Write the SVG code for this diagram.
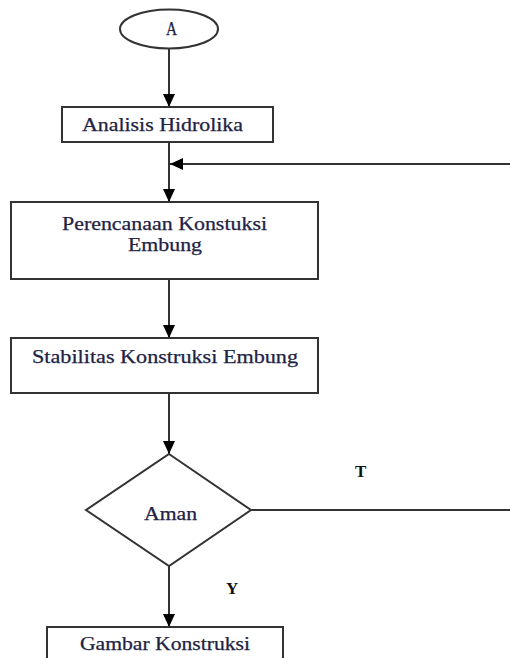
<svg xmlns="http://www.w3.org/2000/svg" width="510" height="658" viewBox="0 0 510 658">
<style>
.shape{fill:#fff;stroke:#333;stroke-width:2}
.line{fill:none;stroke:#333;stroke-width:2}
.t{font-family:"Liberation Serif","Times New Roman",serif;font-size:18px;fill:#222244;stroke:#222244;stroke-width:0.25}
.lbl{font-family:"Liberation Serif","Times New Roman",serif;font-size:17px;font-weight:bold;fill:#111;}
</style>
<defs>
<marker id="arr" viewBox="0 0 13 12" refX="13" refY="6" markerWidth="13" markerHeight="12" orient="auto" markerUnits="userSpaceOnUse">
<path d="M0,0 L13,6 L0,12 z" fill="#000"/>
</marker>
</defs>
<rect width="510" height="658" fill="#fff"/>
<g id="connectors">
<line class="line" x1="169" y1="49" x2="169" y2="107" marker-end="url(#arr)"/>
<line class="line" x1="169" y1="142" x2="169" y2="202" marker-end="url(#arr)"/>
<line class="line" x1="510" y1="164" x2="170" y2="164" marker-end="url(#arr)"/>
<line class="line" x1="169" y1="279" x2="169" y2="338" marker-end="url(#arr)"/>
<line class="line" x1="169" y1="393" x2="169" y2="454" marker-end="url(#arr)"/>
<line class="line" x1="251" y1="510" x2="510" y2="510"/>
<line class="line" x1="169" y1="566" x2="169" y2="627" marker-end="url(#arr)"/>
<text class="lbl" x="355" y="477">T</text>
<text class="lbl" x="226" y="594">Y</text>
</g>
<g id="start">
<ellipse class="shape" cx="169" cy="29" rx="49" ry="19.5"/>
<text class="t" x="166" y="35" font-size="12" textLength="11" lengthAdjust="spacingAndGlyphs">A</text>
</g>
<g id="analisis">
<rect class="shape" x="62" y="107" width="211" height="35"/>
<text class="t" x="82" y="131" textLength="161" lengthAdjust="spacingAndGlyphs">Analisis Hidrolika</text>
</g>
<g id="perencanaan">
<rect class="shape" x="11" y="202" width="307" height="77"/>
<text class="t" x="62" y="230" textLength="205" lengthAdjust="spacingAndGlyphs">Perencanaan Konstuksi</text>
<text class="t" x="128" y="251" textLength="74" lengthAdjust="spacingAndGlyphs">Embung</text>
</g>
<g id="stabilitas">
<rect class="shape" x="11" y="338" width="307" height="55"/>
<text class="t" x="32" y="363" textLength="266" lengthAdjust="spacingAndGlyphs">Stabilitas Konstruksi Embung</text>
</g>
<g id="aman">
<polygon class="shape" points="169,454 251,510 169,566 86,510"/>
<text class="t" x="144" y="520" textLength="53" lengthAdjust="spacingAndGlyphs">Aman</text>
</g>
<g id="gambar">
<rect class="shape" x="47" y="627" width="236" height="40"/>
<text class="t" x="80" y="650" textLength="170" lengthAdjust="spacingAndGlyphs">Gambar Konstruksi</text>
</g>
</svg>
